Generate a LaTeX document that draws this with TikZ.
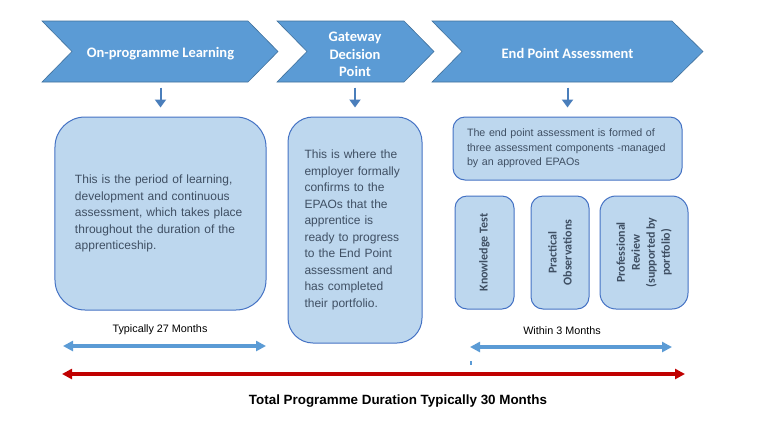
\documentclass[tikz,border=0pt]{standalone}
\usepackage{fontspec}
\setmainfont{Liberation Sans}
\newfontfamily\calfont{Carlito}
\usetikzlibrary{arrows.meta}
\definecolor{chev}{HTML}{5B9BD5}
\definecolor{chevline}{HTML}{41719C}
\definecolor{boxfill}{HTML}{BDD7EE}
\definecolor{boxline}{HTML}{4472C4}
\definecolor{txt}{HTML}{3F4F63}
\definecolor{arr}{HTML}{5B9BD5}
\definecolor{redarr}{HTML}{C00000}
\definecolor{downc}{HTML}{4A7EBB}
\begin{document}
\begin{tikzpicture}[x=1bp,y=-1bp,
  chevron/.style={fill=chev, draw=chevline, line width=0.6bp},
  chevtext/.style={text=white, font=\calfont\bfseries\fontsize{14.5bp}{17.5bp}\selectfont, align=center, minimum height=61bp, inner sep=0pt},
  infobox/.style={fill=boxfill, draw=boxline, line width=1bp, text=txt, font=\fontsize{12bp}{16.5bp}\selectfont, align=left, inner sep=0pt},
  compbox/.style={infobox, rotate=90, font=\calfont\bfseries\fontsize{12bp}{15bp}\selectfont, align=center, rounded corners=12bp, minimum width=113bp},
  downarrow/.style={draw=downc, line width=2bp, -{Triangle[length=8bp,width=11bp]}},
  spanarrow/.style={draw=arr, line width=3.3bp, {Triangle[length=10bp,width=10bp]}-{Triangle[length=10bp,width=10bp]}},
  totalarrow/.style={draw=redarr, line width=3.3bp, {Triangle[length=10bp,width=10bp]}-{Triangle[length=10bp,width=10bp]}},
  label/.style={text=black, font=\fontsize{10.8bp}{13bp}\selectfont, inner sep=0pt}
]
\fill[white] (0,0) rectangle (759,422);
\useasboundingbox (0,0) rectangle (759,422);

% chevrons
\draw[chevron] (42,21) -- (248,21) -- (278,51.5) -- (248,82) -- (42,82) -- (72,51.5) -- cycle;
\draw[chevron] (277,21) -- (404,21) -- (434,51.5) -- (404,82) -- (277,82) -- (307,51.5) -- cycle;
\draw[chevron] (432,21) -- (672,21) -- (703,51.5) -- (672,82) -- (432,82) -- (462,51.5) -- cycle;

\node[chevtext] (c1) at (160.5,53.5) {On-programme Learning};
\node[chevtext] (c2) at (355,54.5) {Gateway\\Decision\\Point};
\node[chevtext] (c3) at (567.5,53.5) {End Point Assessment};

% boxes
\node[infobox, rounded corners=30bp, minimum width=211bp, minimum height=193bp, text width=171bp] (b1) at (160.5,213.5)
  {This is the period of learning,\\development and continuous\\assessment, which takes place\\throughout the duration of the\\apprenticeship.};
\node[infobox, rounded corners=25bp, minimum width=134bp, minimum height=226bp, text width=101bp] (b2) at (355,230)
  {This is where the\\employer formally\\confirms to the\\EPAOs that the\\apprentice is\\ready to progress\\to the End Point\\assessment and\\has completed\\their portfolio.};
\node[infobox, rounded corners=12bp, minimum width=229bp, minimum height=63bp, text width=201bp,
      font=\fontsize{10.7bp}{14.7bp}\selectfont] (b3) at (567.5,148.5)
  {The end point assessment is formed of\\three assessment components -managed\\by an approved EPAOs};

\node[compbox, minimum height=59bp] (k1) at (484.5,252.5) {Knowledge Test};
\node[compbox, minimum height=58bp] (k2) at (560,252.5) {Practical\\Observations};
\node[compbox, minimum height=88bp, rounded corners=16bp] (k3) at (644,252.5) {Professional\\Review\\(supported by\\portfolio)};

% down arrows
\draw[downarrow] ([yshift=-3.5bp]c1.south) -- ([yshift=9bp]b1.north);
\draw[downarrow] ([yshift=-2.5bp]c2.south) -- ([yshift=9bp]b2.north);
\draw[downarrow] ([yshift=-3.5bp]c3.south) -- ([yshift=9bp]b3.north);

% durations
\node[label] (l1) at (160,329.5) {Typically 27 Months};
\node[label] (l2) at (562,331) {Within 3 Months};
\coordinate (s1a) at (63,346);
\coordinate (s1b) at (266,346);
\coordinate (s2a) at (470,347);
\coordinate (s2b) at (672,347);
\coordinate (ta) at (62,374);
\coordinate (tb) at (685,374);
\coordinate (tk1) at (471,361);
\coordinate (tk2) at (471,364.5);
\draw[spanarrow] (s1a) -- (s1b);
\draw[spanarrow] (s2a) -- (s2b);
\draw[draw=arr, line width=1.5bp] (tk1) -- (tk2);
\draw[totalarrow] (ta) -- (tb);
\node[text=black, font=\bfseries\fontsize{13.4bp}{16bp}\selectfont, inner sep=0pt] (tot) at (398,401.5)
  {Total Programme Duration Typically 30 Months};
\end{tikzpicture}
\end{document}
